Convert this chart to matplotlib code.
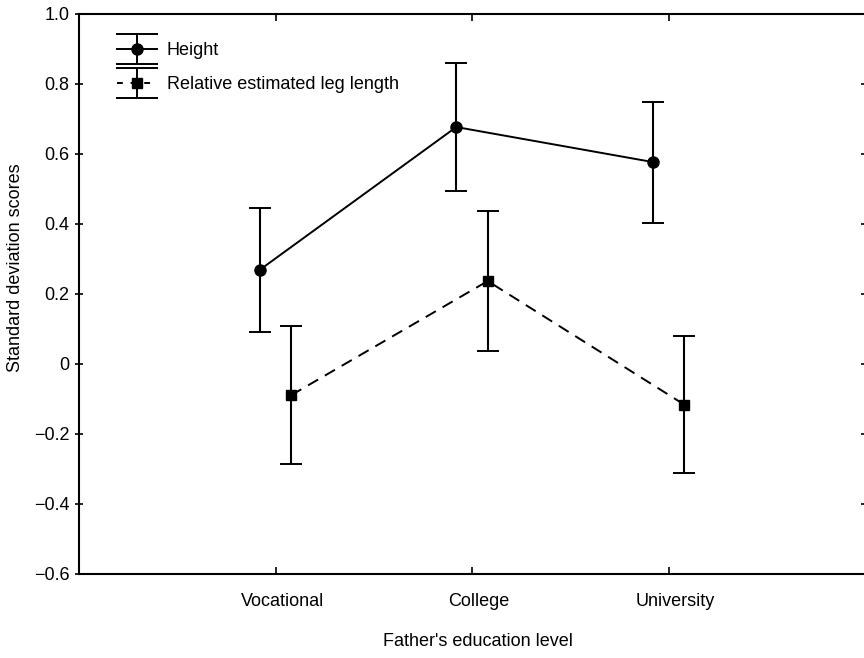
import numpy as np
import matplotlib
matplotlib.use("Agg")
import matplotlib.pyplot as plt
import matplotlib.transforms as mtransforms
from matplotlib.lines import Line2D
from matplotlib.path import Path
from matplotlib.legend_handler import HandlerTuple

plt.rcParams['font.family'] = ['Liberation Sans', 'DejaVu Sans']

categories = ["Vocational", "College", "University"]
height_mean = [0.269, 0.677, 0.577]
height_err = [0.178, 0.184, 0.173]
leg_mean = [-0.089, 0.237, -0.116]
leg_err = [0.198, 0.200, 0.195]
y_ticks = [-0.6, -0.4, -0.2, 0, 0.2, 0.4, 0.6, 0.8, 1.0]
y_ticklabels = ["\u22120.6", "\u22120.4", "\u22120.2", "0", "0.2", "0.4", "0.6", "0.8", "1.0"]

x = np.arange(1, len(categories) + 1)
off = 0.08
fs = 13

fig = plt.figure(figsize=(8.64, 6.58), dpi=100)
ax = fig.add_axes([79/864, 84/658, 786/864, 560/658])

ax.errorbar(x - off, height_mean, yerr=height_err, color="black", lw=1.4,
            marker="o", ms=8, capsize=8, capthick=1.4, elinewidth=1.5)
ax.errorbar(x + off, leg_mean, yerr=leg_err, color="black", lw=1.4, ls="--",
            dashes=(6, 4), marker="s", ms=7.5, capsize=8, capthick=1.4,
            elinewidth=1.5)

ax.set_xlim(0, 4)
ax.set_ylim(-0.6, 1.0)
ax.set_xticks(x)
ax.set_xticklabels(categories)
ax.set_yticks(y_ticks)
ax.set_yticklabels(y_ticklabels)

for s in ["left", "bottom", "top"]:
    ax.spines[s].set_linewidth(1.5)
ax.spines["right"].set_visible(False)

ax.tick_params(axis="x", direction="in", length=5, width=1.2, pad=14,
               labelsize=fs, top=True)
ax.tick_params(axis="y", direction="inout", length=6, width=1.2, pad=4,
               labelsize=fs, right=True)

# nudge category labels a little to the right, like the original
shift = mtransforms.ScaledTranslation(7/100, 0, fig.dpi_scale_trans)
for lab in ax.get_xticklabels():
    lab.set_transform(lab.get_transform() + shift)

fig.text(478/864, 1 - 641/658, "Father's education level", ha="center",
         va="center", fontsize=fs)
fig.text(16/864, 1 - 268/658, "Standard deviation scores", ha="center",
         va="center", rotation=90, fontsize=fs)

# legend handles: errorbar glyph with caps spanning the handle width
cap_path = Path([(-1, 0.7), (1, 0.7), (0, 0.7), (0, -0.7), (-1, -0.7), (1, -0.7)],
                [Path.MOVETO, Path.LINETO, Path.MOVETO, Path.LINETO,
                 Path.MOVETO, Path.LINETO])


def make_caps():
    return Line2D([], [], ls="none", marker=cap_path, ms=30, mew=1.4,
                  color="black", mfc="none")


h_height = (make_caps(), Line2D([], [], color="black", lw=1.4, marker="o", ms=8))
h_leg = (make_caps(), Line2D([], [], color="black", lw=1.4, ls="--",
                             dashes=(3, 4), marker="s", ms=7.5))

ax.legend([h_height, h_leg], ["Height", "Relative estimated leg length"],
          handler_map={tuple: HandlerTuple(ndivide=1)},
          loc="upper left", bbox_to_anchor=(0.028, 0.979), frameon=False,
          fontsize=fs, handlelength=2.2, handletextpad=0.55,
          labelspacing=0.95)

fig.savefig("out.png", dpi=100)
